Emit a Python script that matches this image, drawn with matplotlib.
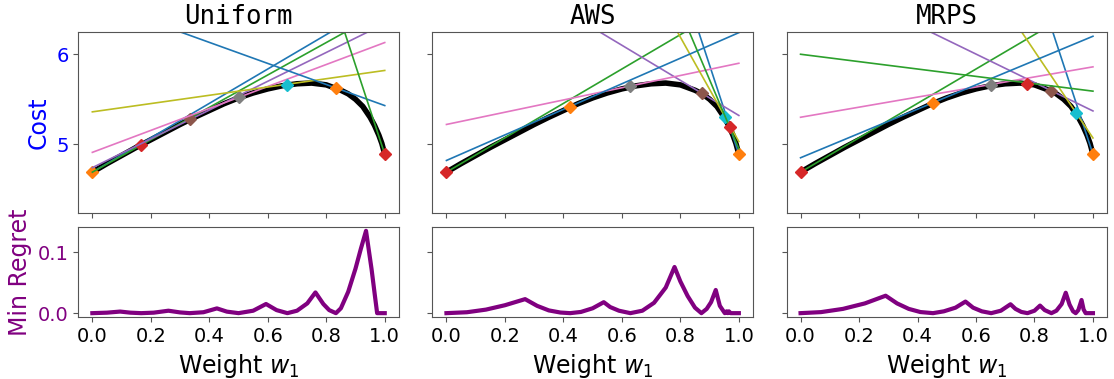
import matplotlib
matplotlib.use('Agg')
from matplotlib import pyplot as plt

filename = 'out.png'

titles = ['Uniform', 'AWS', 'MRPS']

# optimal scalarised cost V(w1), same front in every panel
curve_w = [0.0, 0.05, 0.1, 0.15, 0.2, 0.25, 0.3, 0.35, 0.4, 0.45, 0.5, 0.55, 0.6,
           0.65, 0.7, 0.75, 0.8, 0.85, 0.875, 0.9, 0.925, 0.95, 0.965, 0.98, 0.99, 1.0]
curve_cost = [4.69, 4.785, 4.875, 4.965, 5.05, 5.135, 5.22, 5.30, 5.375, 5.45, 5.515, 5.57, 5.615,
              5.65, 5.672, 5.68, 5.66, 5.60, 5.56, 5.50, 5.42, 5.30, 5.21, 5.10, 5.01, 4.89]

# sampled weights (in sampling order), cost at the sample, and the
# solution's objectives (cost at w1=0, cost at w1=1) -> tangent line
uniform_w = [0.0, 1 / 6, 1 / 3, 0.5, 2 / 3, 5 / 6, 1.0]
uniform_cost = [4.69, 4.99, 5.28, 5.52, 5.66, 5.62, 4.89]
uniform_f2 = [4.69, 4.69, 4.74, 4.91, 5.36, 6.60, 14.77]
uniform_f1 = [6.60, 6.49, 6.34, 6.13, 5.82, 5.43, 4.89]

aws_w = [1.0, 0.0, 0.873, 0.629, 0.952, 0.423, 0.969]
aws_cost = [4.89, 4.69, 5.57, 5.645, 5.30, 5.41, 5.19]
aws_f2 = [14.77, 4.69, 7.27, 5.22, 10.83, 4.82, 12.61]
aws_f1 = [4.89, 6.60, 5.32, 5.90, 5.03, 6.24, 4.95]

mrps_w = [1.0, 0.0, 0.858, 0.652, 0.941, 0.453, 0.776]
mrps_cost = [4.89, 4.69, 5.59, 5.655, 5.35, 5.46, 5.67]
mrps_f2 = [14.77, 4.69, 6.95, 5.30, 9.90, 4.85, 6.00]
mrps_f1 = [4.89, 6.60, 5.37, 5.86, 5.07, 6.20, 5.59]

# min regret over weights
uniform_reg_w = [0.0, 0.05, 0.095, 0.13, 0.167, 0.21, 0.26, 0.30, 0.333, 0.38, 0.426, 0.46, 0.5,
                 0.55, 0.594, 0.63, 0.667, 0.70, 0.735, 0.763, 0.79, 0.81, 0.833, 0.85, 0.875,
                 0.90, 0.918, 0.936, 0.955, 0.966, 0.974, 1.0]
uniform_reg = [0.0, 0.0008, 0.0026, 0.0008, 0.0, 0.0008, 0.004, 0.0012, 0.0, 0.0015, 0.0078, 0.0025, 0.0,
               0.004, 0.015, 0.005, 0.0, 0.004, 0.016, 0.034, 0.015, 0.005, 0.0, 0.008, 0.035,
               0.073, 0.105, 0.135, 0.072, 0.03, 0.0, 0.0]

aws_reg_w = [0.0, 0.07, 0.135, 0.20, 0.269, 0.31, 0.35, 0.39, 0.423, 0.46, 0.50, 0.538, 0.56, 0.59,
             0.629, 0.67, 0.71, 0.75, 0.78, 0.80, 0.825, 0.85, 0.872, 0.89, 0.905, 0.921, 0.935,
             0.952, 0.958, 0.962, 0.966, 0.972, 1.0]
aws_reg = [0.0, 0.0015, 0.0058, 0.013, 0.023, 0.012, 0.0045, 0.001, 0.0, 0.002, 0.008, 0.018, 0.010, 0.004,
           0.0, 0.004, 0.017, 0.042, 0.0757, 0.052, 0.028, 0.009, 0.0, 0.007, 0.018, 0.038, 0.012,
           0.0, 0.003, 0.0, 0.003, 0.0, 0.0]

mrps_reg_w = [0.0, 0.07, 0.145, 0.22, 0.291, 0.33, 0.37, 0.41, 0.453, 0.49, 0.53, 0.564, 0.59, 0.62,
              0.652, 0.685, 0.718, 0.735, 0.755, 0.776, 0.80, 0.819, 0.835, 0.858, 0.875, 0.893,
              0.907, 0.92, 0.932, 0.941, 0.95, 0.961, 0.968, 0.975, 1.0]
mrps_reg = [0.0, 0.0017, 0.007, 0.016, 0.0286, 0.016, 0.007, 0.0018, 0.0, 0.003, 0.009, 0.019, 0.009, 0.003,
            0.0, 0.004, 0.0146, 0.007, 0.002, 0.0, 0.004, 0.0124, 0.005, 0.0, 0.004, 0.015,
            0.0335, 0.014, 0.003, 0.0, 0.005, 0.0216, 0.006, 0.0, 0.0]

samples = [
    (uniform_w, uniform_cost, uniform_f2, uniform_f1, uniform_reg_w, uniform_reg),
    (aws_w, aws_cost, aws_f2, aws_f1, aws_reg_w, aws_reg),
    (mrps_w, mrps_cost, mrps_f2, mrps_f1, mrps_reg_w, mrps_reg),
]

colors = plt.rcParams['axes.prop_cycle'].by_key()['color']
spine_color = '#555555'

fig, axes = plt.subplots(2, 3, figsize=(11.14, 3.79), dpi=100, sharex=True, sharey='row',
                         gridspec_kw={'height_ratios': [181, 90.6]})
fig.subplots_adjust(left=0.0703, right=0.9937, top=0.9148, bottom=0.1628,
                    wspace=0.105, hspace=0.0987)

for col, (title, data) in enumerate(zip(titles, samples)):
    ws, costs, f2s, f1s, reg_w, reg = data
    ax = axes[0, col]
    ax.plot(curve_w, curve_cost, color='black', linewidth=4, solid_capstyle='round')
    for i in range(len(ws)):
        ax.plot([0, 1], [f2s[i], f1s[i]], color=colors[(2 * i) % 10], linewidth=1.2)
        ax.plot(ws[i], costs[i], marker='D', markersize=6, linestyle='none',
                color=colors[(2 * i + 1) % 10])
    ax.set_title(title, fontsize=18.5, family='DejaVu Sans Mono')
    ax.set_ylim(4.233, 6.244)
    ax.set_yticks([5, 6])

    bx = axes[1, col]
    bx.plot(reg_w, reg, color='purple', linewidth=3)
    bx.set_xticks([0, 0.2, 0.4, 0.6, 0.8, 1.0])
    bx.set_yticks([0.0, 0.1])
    bx.set_xlabel('Weight $w_1$', fontsize=17)

    for a in (ax, bx):
        a.set_xlim(-0.048, 1.048)
        a.tick_params(labelsize=14, color=spine_color)
        for s in a.spines.values():
            s.set_color(spine_color)

axes[1, 0].set_ylim(-0.0068, 0.1418)
axes[0, 0].set_ylabel('Cost', color='blue', fontsize=17)
axes[0, 0].tick_params(axis='y', labelcolor='blue')
axes[1, 0].set_ylabel('Min Regret', color='purple', fontsize=17)
axes[1, 0].tick_params(axis='y', labelcolor='purple')

plt.savefig(filename, dpi=100)
plt.close()
